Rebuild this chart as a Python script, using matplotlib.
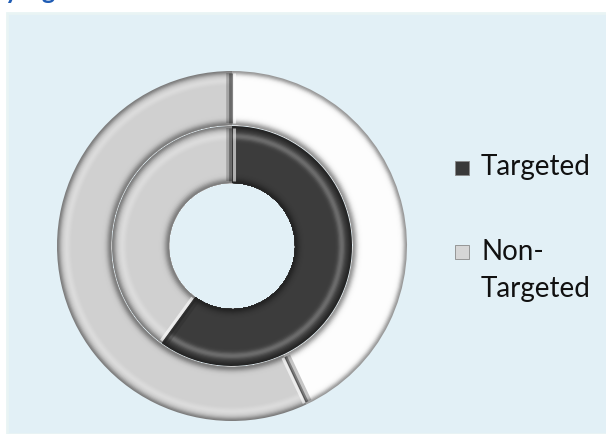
import numpy as np
import matplotlib.pyplot as plt
from matplotlib.patches import Rectangle
from matplotlib.colors import to_rgb

# share of each group, inner ring and outer ring
labels = ['Targeted', 'Non-\nTargeted']
inner_vals = [60, 40]
outer_vals = [43, 57]

inner_colors = ['#3c3c3c', '#d0d0d0']
outer_colors = ['#fdfdfd', '#d0d0d0']
legend_colors = ['#3a3a3a', '#d6d6d6']

W, H = 606, 434
fig = plt.figure(figsize=(W / 100, H / 100), dpi=100)
fig.patch.set_facecolor('white')

# pale blue panel behind the chart
fig.add_artist(Rectangle((7 / W, 0), 1, 1 - 13 / H, transform=fig.transFigure,
                         facecolor='#e2f0f6', edgecolor='#e9f4f4', lw=2, zorder=-5))

# title line sits above the panel, only its lower edge shows
fig.text(-9 / W, 1 + 1 / H, 'by Age', color='#1f5cb4', fontsize=18,
         fontweight='bold', va='baseline', ha='left', family='Lato')

cx, cy, half = 232, H - 246, 180
ax = fig.add_axes([(cx - half) / W, (cy - half) / H, 2 * half / W, 2 * half / H])


def shade(color, t):
    # rounded bevel: darker towards both edges, soft highlight near the outside
    c = np.array(to_rgb(color))
    hi = 0.25 * np.exp(-((t - 0.82) / 0.06) ** 2)
    sh = 0.4 * np.exp(-((1 - t) / 0.07) ** 2) + 0.4 * np.exp(-(t / 0.08) ** 2)
    c = c * (1 - hi) + hi
    c = c * (1 - min(sh, 0.6))
    return tuple(np.clip(c, 0, 1))


def ring(vals, colors, r_in, r_out, n=50):
    w = r_out - r_in
    for k in range(n, 0, -1):
        t = (k - 0.5) / n
        ax.pie(vals, radius=r_in + w * k / n, startangle=90, counterclock=False,
               colors=[shade(c, t) for c in colors],
               wedgeprops=dict(width=w * k / n, linewidth=0, antialiased=True))
    # bevelled radial edges where the wedges meet
    bounds = 90 - 360 * np.cumsum([0] + list(vals))[:-1] / sum(vals)
    for a in np.radians(bounds):
        d = np.array([np.cos(a), np.sin(a)])
        p = np.array([np.sin(a), -np.cos(a)])  # clockwise direction
        rr = np.array([r_in + 2, r_out - 2])
        for off, col, lw, al in [(-3.5, '#222222', 4.0, 0.25), (-1.6, '#222222', 2.0, 0.45),
                                 (-0.5, '#333333', 1.0, 0.6), (1.6, 'white', 2.2, 0.6)]:
            pts = rr[:, None] * d + off * p
            ax.plot(pts[:, 0], pts[:, 1], color=col, lw=lw, alpha=al,
                    solid_capstyle='butt')


ring(outer_vals, outer_colors, 121, 175)
ring(inner_vals, inner_colors, 63, 120)

ax.set_xlim(-half, half)
ax.set_ylim(-half, half)
ax.set_aspect('equal')
ax.axis('off')

# legend: square key beside the first line of each label
step = 38
for lab, col, base in zip(labels, legend_colors, [175, 259]):
    fig.add_artist(Rectangle((455 / W, (H - base) / H), 14 / W, 14 / H,
                             transform=fig.transFigure, facecolor=col,
                             edgecolor='#8a8a8a', lw=0.6))
    last = base + step * lab.count('\n')
    fig.text(481 / W, (H - last) / H, lab, family='Lato', fontsize=20,
             va='baseline', ha='left', linespacing=1.5, color='#111111')

fig.savefig('out.png', dpi=100, facecolor=fig.get_facecolor())
